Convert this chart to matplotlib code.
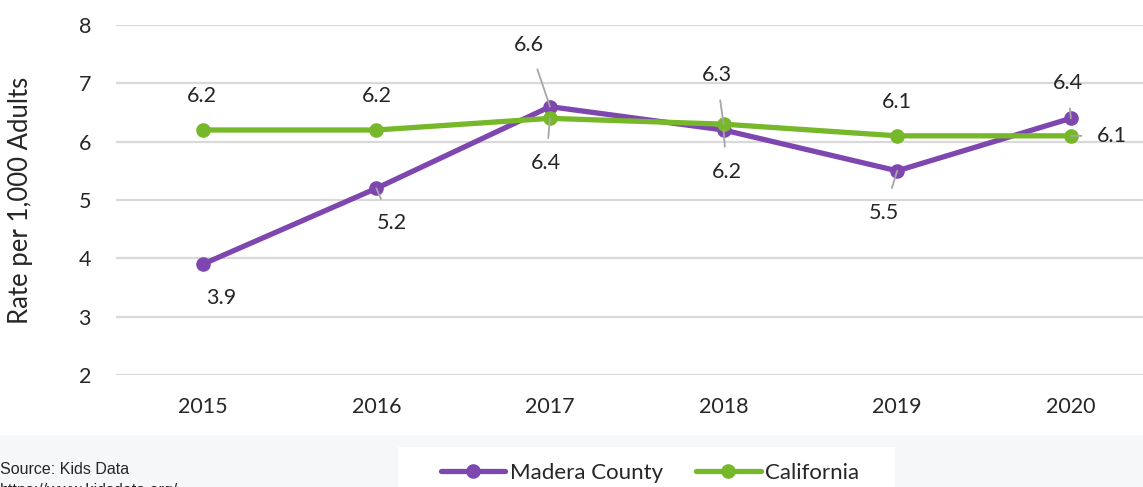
import matplotlib
matplotlib.use("Agg")
import matplotlib.pyplot as plt
from matplotlib.patches import Rectangle

years = ["2015", "2016", "2017", "2018", "2019", "2020"]
madera = [3.9, 5.2, 6.6, 6.2, 5.5, 6.4]
california = [6.2, 6.2, 6.4, 6.3, 6.1, 6.1]
y_ticks = [2, 3, 4, 5, 6, 7, 8]

# label offsets in pixels (dx, dy) and whether a leader line is drawn
madera_offsets = [(18, -34, False), (15, -35, True), (-21, 62, True),
                  (3, -42, True), (-13, -42, True), (-3, 35, True)]
cal_offsets = [(-1, 34, False), (0, 34, False), (-4, -45, True),
               (-7, 49, True), (0, 34, False), (41, 0, True)]

PURPLE = "#7e47b0"
GREEN = "#76b82a"
GRID = "#d9d9d9"
TEXT = "#262626"
FONT = "Lato"

W, H = 1143, 487
fig = plt.figure(figsize=(W / 100, H / 100), dpi=100)
fig.patch.set_facecolor("white")

# bottom light band and white legend box
fig.add_artist(Rectangle((0, 0), 1, (H - 435) / H, transform=fig.transFigure,
                         facecolor="#f6f7f9", edgecolor="none", zorder=0))
fig.add_artist(Rectangle((398 / W, 0), (895 - 398) / W, (H - 447) / H,
                         transform=fig.transFigure, facecolor="white",
                         edgecolor="none", zorder=0))

left, right = 116, 1143
top, bottom = 25, 375
ax = fig.add_axes([left / W, 1 - bottom / H, (right - left) / W, (bottom - top) / H])
ax.set_facecolor("white")
x = list(range(len(years)))
ax.set_xlim(-0.5, -0.5 + (right - left) / 173.6)
ax.set_ylim(2, 8)
ax.set_yticks(y_ticks)
ax.set_yticklabels([str(t) for t in y_ticks])
ax.set_xticks(x)
ax.set_xticklabels(years)
for s in ax.spines.values():
    s.set_visible(False)
ax.tick_params(length=0, labelsize=15.5, labelcolor=TEXT, pad=16)
ax.tick_params(axis="y", pad=18)
for lab in ax.get_xticklabels() + ax.get_yticklabels():
    lab.set_fontfamily(FONT)
ax.grid(axis="y", color=GRID, linewidth=1.6)
ax.set_axisbelow(True)
ax.set_ylabel("Rate per 1,000 Adults", fontsize=18.5, family=FONT, color=TEXT, labelpad=33)

ax.plot(x, madera, color=PURPLE, lw=3.8, marker="o", ms=9.5, label="Madera County",
        solid_capstyle="round", zorder=3, clip_on=False)
ax.plot(x, california, color=GREEN, lw=3.8, marker="o", ms=9.5, label="California",
        solid_capstyle="round", zorder=4, clip_on=False)

def label(xi, v, off):
    dx, dy, leader = off
    ap = dict(arrowstyle="-", color="#a6a6a6", lw=1.3, shrinkA=9, shrinkB=0) if leader else None
    ax.annotate(f"{v:.1f}", xy=(xi, v), xytext=(dx, dy), textcoords="offset pixels",
                ha="center", va="center", fontsize=15.5, family=FONT, color=TEXT,
                arrowprops=ap, zorder=5, annotation_clip=False)

for xi, v, off in zip(x, madera, madera_offsets):
    label(xi, v, off)
for xi, v, off in zip(x, california, cal_offsets):
    label(xi, v, off)

leg = fig.legend(loc="center", bbox_to_anchor=(650 / W, 1 - 473 / H), ncol=2,
                 frameon=False, prop={"family": FONT, "size": 16},
                 handlelength=2.9, handletextpad=0.2, columnspacing=1.5)
for t in leg.get_texts():
    t.set_color(TEXT)

fig.text(0, 1 - 470 / H, "Source: Kids Data", family="Liberation Sans", fontsize=11.5,
         color=TEXT, ha="left", va="center")
fig.text(0, 1 - 491 / H, "https://www.kidsdata.org/", family="Liberation Sans", fontsize=11.5,
         color=TEXT, ha="left", va="center")

fig.savefig("out.png", dpi=100, facecolor=fig.get_facecolor())
